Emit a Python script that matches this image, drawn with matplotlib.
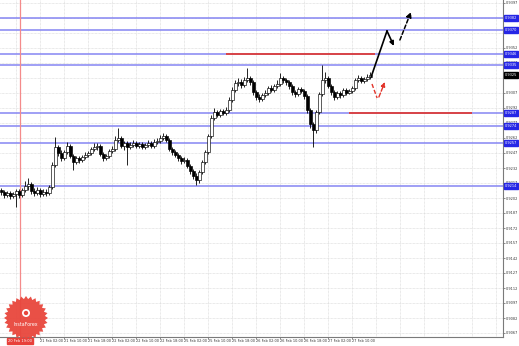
import numpy as np
import matplotlib.pyplot as plt
import matplotlib.transforms as mtransforms
from matplotlib.patches import Polygon, Circle

# H1 candles, prices in 1e-4 units
opens = np.array([
    9210, 9208, 9205, 9207, 9204, 9206, 9209, 9205, 9210, 9214,
    9216, 9209, 9207, 9210, 9206, 9208, 9207, 9213, 9235, 9253,
    9247, 9242, 9248, 9254, 9244, 9238, 9242, 9240, 9243, 9245,
    9247, 9251, 9253, 9254, 9246, 9242, 9244, 9249, 9251, 9260,
    9262, 9254, 9257, 9253, 9255, 9257, 9254, 9256, 9253, 9255,
    9257, 9254, 9258, 9259, 9262, 9264, 9260, 9251, 9248, 9245,
    9242, 9239, 9240, 9234, 9229, 9224, 9220, 9228, 9238, 9248,
    9264, 9282, 9288, 9285, 9289, 9287, 9290, 9300, 9310, 9317,
    9318, 9315, 9320, 9322, 9318, 9308, 9303, 9301, 9305, 9307,
    9312, 9310, 9314, 9316, 9322, 9320, 9318, 9314, 9308, 9306,
    9311, 9309, 9304, 9290, 9276, 9270, 9288, 9306, 9320, 9322,
    9314, 9308, 9303, 9307, 9305, 9310, 9307, 9309, 9312, 9320,
    9322, 9319, 9321, 9323]) / 10000
highs = np.array([
    9212, 9210, 9209, 9209, 9208, 9211, 9211, 9212, 9219, 9222,
    9218, 9212, 9213, 9212, 9211, 9211, 9215, 9238, 9263, 9255,
    9250, 9250, 9258, 9256, 9246, 9244, 9244, 9245, 9248, 9249,
    9253, 9257, 9257, 9256, 9248, 9246, 9251, 9254, 9264, 9272,
    9264, 9259, 9259, 9258, 9260, 9259, 9258, 9258, 9257, 9260,
    9259, 9261, 9262, 9265, 9267, 9266, 9262, 9253, 9250, 9247,
    9244, 9243, 9242, 9236, 9231, 9227, 9230, 9240, 9250, 9266,
    9285, 9292, 9290, 9291, 9291, 9293, 9303, 9313, 9320, 9322,
    9321, 9323, 9332, 9324, 9320, 9310, 9306, 9307, 9310, 9314,
    9315, 9316, 9320, 9327, 9324, 9322, 9320, 9316, 9310, 9313,
    9313, 9311, 9306, 9292, 9278, 9290, 9308, 9335, 9328, 9324,
    9316, 9310, 9309, 9309, 9312, 9312, 9311, 9314, 9322, 9325,
    9324, 9323, 9326, 9328]) / 10000
lows = np.array([
    9205, 9202, 9203, 9201, 9202, 9193, 9202, 9203, 9208, 9210,
    9206, 9204, 9205, 9203, 9204, 9204, 9205, 9211, 9233, 9244,
    9239, 9240, 9246, 9242, 9230, 9236, 9237, 9238, 9241, 9243,
    9245, 9249, 9250, 9244, 9239, 9240, 9242, 9247, 9249, 9258,
    9252, 9250, 9235, 9251, 9253, 9252, 9252, 9251, 9251, 9253,
    9252, 9252, 9256, 9257, 9260, 9258, 9249, 9245, 9243, 9239,
    9236, 9237, 9232, 9226, 9221, 9215, 9217, 9226, 9236, 9246,
    9262, 9280, 9283, 9283, 9285, 9285, 9288, 9298, 9308, 9314,
    9312, 9313, 9318, 9315, 9305, 9300, 9298, 9299, 9303, 9305,
    9308, 9308, 9312, 9314, 9317, 9315, 9311, 9305, 9303, 9304,
    9307, 9301, 9287, 9272, 9253, 9267, 9286, 9304, 9317, 9312,
    9305, 9300, 9301, 9302, 9303, 9305, 9306, 9307, 9310, 9318,
    9317, 9317, 9319, 9321]) / 10000
closes = np.array([
    9208, 9205, 9207, 9204, 9206, 9209, 9205, 9210, 9214, 9216,
    9209, 9207, 9210, 9206, 9208, 9207, 9213, 9235, 9253, 9247,
    9242, 9248, 9254, 9244, 9238, 9242, 9240, 9243, 9245, 9247,
    9251, 9253, 9254, 9246, 9242, 9244, 9249, 9251, 9260, 9262,
    9254, 9257, 9253, 9255, 9257, 9254, 9256, 9253, 9255, 9257,
    9254, 9258, 9259, 9262, 9264, 9260, 9251, 9248, 9245, 9242,
    9239, 9240, 9234, 9229, 9224, 9220, 9228, 9238, 9248, 9264,
    9282, 9288, 9285, 9289, 9287, 9290, 9300, 9310, 9317, 9318,
    9315, 9320, 9322, 9318, 9308, 9303, 9301, 9305, 9307, 9312,
    9310, 9314, 9316, 9322, 9320, 9318, 9314, 9308, 9306, 9311,
    9309, 9304, 9290, 9276, 9270, 9288, 9306, 9320, 9322, 9314,
    9308, 9303, 9307, 9305, 9310, 9307, 9309, 9312, 9320, 9322,
    9319, 9321, 9323, 9325]) / 10000

# support / resistance levels (blue) and the analyst's red levels
levels = [0.9382, 0.9370, 0.9346, 0.9335, 0.9287, 0.9274, 0.9257, 0.9214]
red_upper = 0.9346
red_upper_span = [75, 124.5]
red_lower = 0.9287
red_lower_span = [116, 157]
vline_bar = 6.3
vline_label = "20 Feb 19:00"
last_price = 0.9325

# forecast paths
main_path_x = [123.2, 128.5, 130.8]
main_path_y = [0.9323, 0.9369, 0.9354]
next_path_x = [132.8, 136.5]
next_path_y = [0.9360, 0.9388]
alt_down_x = [123.5, 125.2]
alt_down_y = [0.9316, 0.9302]
alt_up_x = [125.8, 127.8]
alt_up_y = [0.9303, 0.9318]

yticks = [0.9067, 0.9082, 0.9097, 0.9112, 0.9127, 0.9142, 0.9157, 0.9172,
          0.9187, 0.9202, 0.9217, 0.9232, 0.9247, 0.9262, 0.9277, 0.9292,
          0.9307, 0.9322, 0.9337, 0.9352, 0.9367, 0.9382, 0.9397]
xtick_bars = [13, 21, 29, 37, 45, 53, 61, 69, 77, 85, 93, 101, 109, 117]
xtick_labels = ["21 Feb 02:00", "21 Feb 10:00", "21 Feb 18:00", "22 Feb 02:00",
                "22 Feb 10:00", "22 Feb 18:00", "25 Feb 02:00", "25 Feb 10:00",
                "25 Feb 18:00", "26 Feb 02:00", "26 Feb 10:00", "26 Feb 18:00",
                "27 Feb 02:00", "27 Feb 10:00"]

W, H = 519, 346
fig = plt.figure(figsize=(W / 100, H / 100), dpi=100)
ax = fig.add_axes([0, 9 / H, 503 / W, 337 / H])
# pixel coords measured from the top-left corner of the image
px = mtransforms.Affine2D().scale(1, -1).translate(0, H).scale(1 / W, 1 / H) + fig.transFigure

ax.set_xlim(-0.5, 167.17)
ax.set_ylim(0.9063, 0.9400)

# grid
for b in range(5, 167, 8):
    ax.axvline(b, color='#d4d4d4', lw=0.5, ls=(0, (1, 1)), zorder=0)
for t in yticks:
    ax.axhline(t, color='#d4d4d4', lw=0.5, ls=(0, (1, 1)), zorder=0)

# levels
for lv in levels:
    ax.axhline(lv, color='#8585f2', lw=1.1, zorder=1)
ax.hlines(red_upper, *red_upper_span, color='#e2342a', lw=1.2, zorder=2)
ax.hlines(red_lower, *red_lower_span, color='#e2342a', lw=1.2, zorder=2)
ax.axvline(vline_bar, color='#f48a8a', lw=0.9, zorder=1)

# candles
idx = np.arange(len(closes))
ax.vlines(idx, lows, highs, color='black', lw=0.6, zorder=3)
bull = closes >= opens
ax.bar(idx, closes - opens, bottom=opens, width=0.7,
       color=np.where(bull, 'white', 'black'), edgecolor='black', lw=0.45, zorder=4)

# forecast arrows
ax.plot(main_path_x[:2], main_path_y[:2], color='black', lw=1.2, zorder=5)
ax.annotate('', xy=(main_path_x[2], main_path_y[2]), xytext=(main_path_x[1], main_path_y[1]),
            arrowprops=dict(arrowstyle='-|>,head_length=0.25,head_width=0.12', color='black', lw=1.2,
                            shrinkA=0, shrinkB=0), zorder=5)
ax.annotate('', xy=(next_path_x[1], next_path_y[1]), xytext=(next_path_x[0], next_path_y[0]),
            arrowprops=dict(arrowstyle='-|>,head_length=0.3,head_width=0.15', color='black', lw=1.1,
                            ls=(0, (2.5, 1.5)), shrinkA=0, shrinkB=0), zorder=5)
ax.plot(alt_down_x, alt_down_y, color='#e2342a', lw=1.0, ls=(0, (3, 1.5)), zorder=5)
ax.annotate('', xy=(alt_up_x[1], alt_up_y[1]), xytext=(alt_up_x[0], alt_up_y[0]),
            arrowprops=dict(arrowstyle='-|>,head_length=0.25,head_width=0.12', color='#e2342a', lw=1.0,
                            ls=(0, (3, 1.5)), shrinkA=0, shrinkB=0), zorder=5)

# axes look
for s in ['left', 'top']:
    ax.spines[s].set_visible(False)
for s in ['right', 'bottom']:
    ax.spines[s].set_color('#7a7a7a')
    ax.spines[s].set_linewidth(0.8)
ax.yaxis.tick_right()
ax.set_yticks(yticks)
ax.set_yticklabels(['%.4f' % t for t in yticks])
ax.set_xticks(xtick_bars)
ax.set_xticklabels(xtick_labels, ha='left')
ax.tick_params(axis='both', labelsize=2.5, length=1.2, width=0.4, pad=0.6, colors='#333333')
ax.set_facecolor('white')

# price boxes on the right scale
ytr = mtransforms.blended_transform_factory(ax.transAxes, ax.transData)
for lv in levels:
    ax.text(1.003, lv, '%.4f' % lv, transform=ytr, fontsize=2.5, color='white', va='center', ha='left',
            bbox=dict(boxstyle='square,pad=0.2', fc='#2626e6', ec='#2626e6'), clip_on=False, zorder=6)
ax.text(1.003, last_price, '%.4f' % last_price, transform=ytr, fontsize=2.5, color='white',
        va='center', ha='left', bbox=dict(boxstyle='square,pad=0.2', fc='black', ec='black'),
        clip_on=False, zorder=6)
xtr = mtransforms.blended_transform_factory(ax.transData, ax.transAxes)
ax.text(vline_bar, -0.006, vline_label, transform=xtr, fontsize=2.6, color='white', va='top', ha='center',
        bbox=dict(boxstyle='square,pad=0.25', fc='#e8403a', ec='#e8403a'), clip_on=False, zorder=6)

# logo badge in the lower-left corner
n = 28
ang = np.linspace(0, 2 * np.pi, 2 * n, endpoint=False)
rad = np.where(np.arange(2 * n) % 2 == 0, 22, 19)
star = np.column_stack([26 + rad * np.cos(ang), 318 + rad * np.sin(ang)])
fig.add_artist(Polygon(star, closed=True, transform=px, fc='#e8463c', ec='none', alpha=0.95, zorder=10))
fig.add_artist(Circle((26, 313), 4, transform=px, fc='white', ec='none', zorder=11))
fig.add_artist(Circle((26, 313), 2.2, transform=px, fc='#e8463c', ec='none', zorder=12))
fig.text(26, 324, 'InstaForex', transform=px, fontsize=3.4, color='white', ha='center', va='center', zorder=12)

fig.savefig('out.png', dpi=100)
